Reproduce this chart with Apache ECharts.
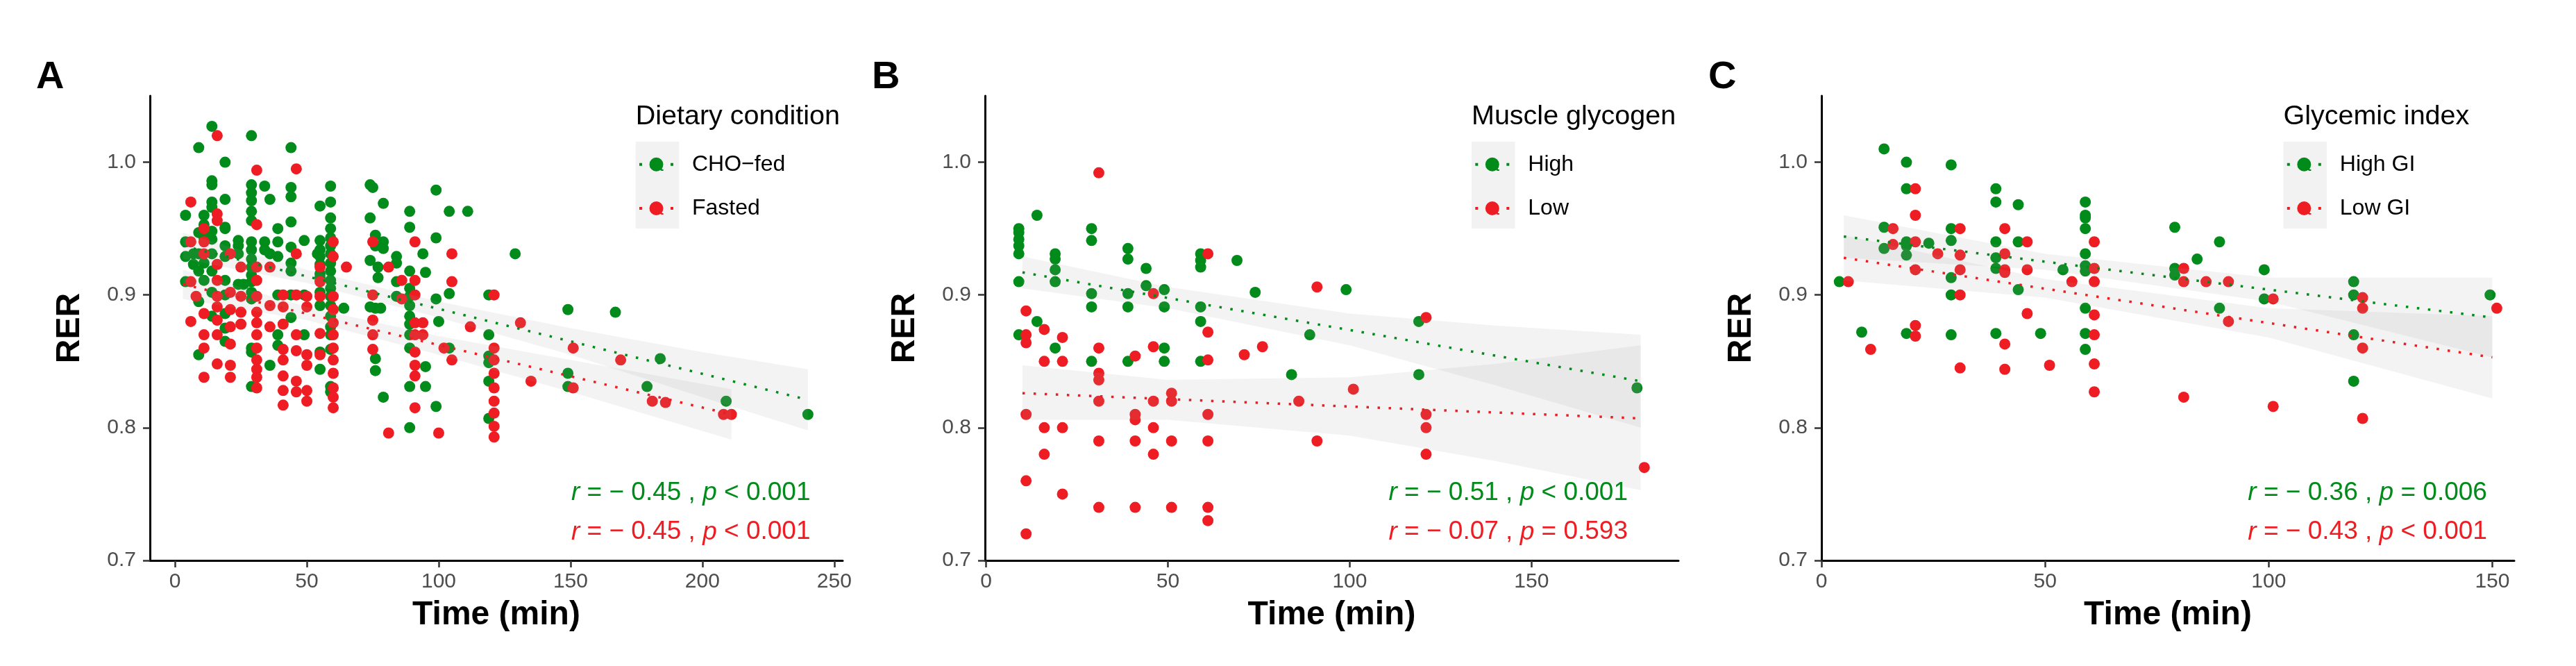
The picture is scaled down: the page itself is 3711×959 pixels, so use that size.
<!DOCTYPE html>
<html><head><meta charset="utf-8">
<script src="https://cdn.jsdelivr.net/npm/echarts@6/dist/echarts.min.js"></script>
<style>html,body{margin:0;padding:0;background:#fff}#c{width:3711px;height:959px}</style>
</head><body><div id="c"></div>
<script>
// ---------- DATA ----------
const xTicksA = [0, 50, 100, 150, 200, 250];
const xTicksB = [0, 50, 100, 150];
const xTicksC = [0, 50, 100, 150];
const yTicks = [0.7, 0.8, 0.9, 1.0];

// Panel A: Dietary condition
const choFed = [[14,1.027],[9,1.011],[19,1.0],[29,1.02],[44,1.011],[14,0.986],[14,0.983],
[29,0.983],[29,0.977],[29,0.971],[29,0.963],[29,0.956],[34,0.982],[36,0.972],
[44,0.981],[44,0.974],[44,0.955],[59,0.982],[59,0.97],[59,0.958],[59,0.95],[55,0.967],
[74,0.983],[75,0.981],[79,0.969],[89,0.963],[89,0.951],[99,0.979],[104,0.963],[111,0.963],
[74,0.958],[19,0.972],[14,0.97],[14,0.966],[4,0.96],[11,0.96],[19,0.951],
[99,0.943],[94,0.931],[129,0.931],[149,0.889],[167,0.887],[184,0.852],[149,0.841],[149,0.831],
[179,0.831],[209,0.820],[240,0.810],[119,0.9],[119,0.87],[119,0.854],[119,0.849],[119,0.835],[119,0.807],
[104,0.86],[100,0.88],[99,0.897],[104,0.901],[95,0.917],[95,0.846],[95,0.831],[99,0.816],[89,0.831],
[89,0.8],[79,0.823],[89,0.86],[89,0.918],[89,0.905],[89,0.899],[89,0.892],[89,0.884],[89,0.878],[89,0.87],
[84,0.929],[84,0.924],[84,0.91],[84,0.899],[74,0.926],[76,0.945],[76,0.937],[79,0.94],[79,0.935],
[77,0.921],[77,0.913],[76,0.89],[78,0.89],[74,0.891],[76,0.852],[76,0.843],[64,0.89],
[59,0.943],[59,0.937],[59,0.931],[59,0.924],[59,0.918],[59,0.911],[59,0.905],[59,0.899],[59,0.892],
[59,0.884],[59,0.876],[59,0.87],[59,0.859],[59,0.831],[59,0.827],
[55,0.941],[55,0.934],[55,0.929],[55,0.923],[55,0.916],[55,0.913],[55,0.902],[55,0.892],[55,0.857],
[55,0.844],[54,0.931],[49,0.941],[49,0.9],[49,0.87],[44,0.936],[44,0.924],[44,0.918],[44,0.9],[44,0.883],
[39,0.95],[39,0.94],[39,0.929],[39,0.9],[39,0.87],[39,0.862],[36,0.931],[36,0.847],[34,0.94],[34,0.934],
[29,0.94],[29,0.934],[29,0.927],[29,0.921],[29,0.915],[29,0.91],[29,0.902],[29,0.897],[29,0.86],[29,0.857],[29,0.831],
[24,0.941],[24,0.937],[24,0.931],[24,0.908],[26,0.908],
[19,0.95],[19,0.937],[19,0.929],[19,0.911],[19,0.9],[19,0.886],[19,0.875],[19,0.865],
[14,0.948],[14,0.942],[14,0.931],[14,0.918],[14,0.902],[14,0.884],[11,0.953],[11,0.943],[11,0.924],[11,0.911],
[9,0.947],[9,0.931],[9,0.918],[9,0.895],[4,0.94],[4,0.929],[4,0.91],[9,0.855],[7,0.931],[7,0.923]];
const fasted = [[16,1.02],[46,0.995],[31,0.994],[6,0.97],[16,0.961],[16,0.956],[31,0.953],
[11,0.95],[11,0.94],[11,0.931],[6,0.94],[21,0.931],
[16,0.923],[16,0.911],[16,0.899],[16,0.891],[16,0.881],[16,0.87],[16,0.848],
[21,0.902],[21,0.889],[21,0.876],[21,0.863],[21,0.847],[21,0.838],
[11,0.886],[11,0.87],[11,0.86],[11,0.838],[6,0.91],[6,0.88],[8,0.899],
[25,0.921],[25,0.899],[25,0.887],[25,0.878],
[31,0.921],[31,0.911],[31,0.899],[31,0.887],[31,0.879],[31,0.87],[31,0.86],[31,0.851],[31,0.844],[31,0.838],[31,0.83],
[36,0.921],[36,0.892],[36,0.876],
[41,0.9],[41,0.891],[41,0.878],[41,0.859],[41,0.851],[41,0.839],[41,0.828],[41,0.817],
[46,0.931],[46,0.9],[46,0.87],[46,0.858],[46,0.835],[46,0.827],
[50,0.899],[50,0.891],[50,0.855],[50,0.847],[50,0.828],[50,0.82],
[55,0.921],[55,0.91],[55,0.899],[55,0.871],[55,0.855],
[60,0.94],[60,0.929],[60,0.899],[60,0.889],[60,0.879],[60,0.87],[60,0.86],[60,0.851],[60,0.841],[60,0.83],[60,0.823],[60,0.815],
[65,0.921],[75,0.94],[75,0.9],[75,0.881],[75,0.87],[75,0.859],[81,0.921],[81,0.796],[86,0.911],[86,0.897],
[91,0.94],[91,0.911],[91,0.9],[91,0.879],[91,0.87],[91,0.857],[91,0.847],[91,0.839],[91,0.815],
[94,0.879],[94,0.87],[100,0.796],[105,0.931],[105,0.91],[105,0.851],[102,0.86],[112,0.876],
[121,0.9],[121,0.86],[121,0.851],[121,0.841],[121,0.83],[121,0.82],[121,0.811],[121,0.801],[121,0.793],
[131,0.879],[135,0.835],[151,0.86],[151,0.83],[169,0.851],[181,0.82],[186,0.819],[208,0.81],[211,0.81]];

// Panel B: Muscle glycogen
const glyHigh = [[14,0.96],[9,0.95],[9,0.947],[9,0.942],[9,0.937],[9,0.931],[9,0.91],[9,0.87],[14,0.88],
[19,0.931],[19,0.927],[19,0.919],[19,0.91],[19,0.86],[29,0.95],[29,0.941],[29,0.901],[29,0.891],[29,0.85],
[39,0.935],[39,0.927],[39,0.901],[39,0.891],[39,0.85],[44,0.92],[44,0.907],
[49,0.904],[49,0.891],[49,0.86],[49,0.85],[59,0.931],[59,0.926],[59,0.921],[59,0.891],[59,0.88],[59,0.85],
[69,0.926],[74,0.902],[84,0.84],[89,0.87],[99,0.904],[119,0.88],[119,0.84],[179,0.83]];
const glyLow = [[31,0.992],[61,0.931],[11,0.888],[11,0.87],[11,0.864],[16,0.874],[21,0.868],[16,0.85],[21,0.85],
[31,0.86],[31,0.841],[31,0.836],[31,0.82],[41,0.854],[46,0.901],[46,0.861],[46,0.82],[51,0.826],[51,0.82],
[61,0.872],[61,0.851],[71,0.855],[76,0.861],[91,0.906],[86,0.82],[101,0.829],
[121,0.883],[121,0.81],[121,0.8],[121,0.78],[11,0.81],[16,0.8],[21,0.8],[16,0.78],[11,0.76],[21,0.75],[11,0.72],
[41,0.81],[41,0.806],[46,0.8],[46,0.78],[31,0.79],[41,0.79],[51,0.79],[61,0.81],[61,0.79],[91,0.79],
[31,0.74],[41,0.74],[51,0.74],[61,0.74],[61,0.73],[181,0.77]];

// Panel C: Glycemic index
const highGI = [[14,1.01],[19,1.0],[29,0.998],[19,0.98],[39,0.98],[39,0.97],[44,0.968],
[59,0.97],[59,0.96],[59,0.958],[59,0.95],[14,0.951],[14,0.935],[19,0.94],[19,0.937],[19,0.93],[24,0.939],
[29,0.95],[29,0.941],[29,0.913],[29,0.9],[29,0.87],[39,0.94],[39,0.928],[39,0.92],[44,0.94],[44,0.904],
[39,0.871],[49,0.871],[54,0.919],[59,0.931],[59,0.922],[59,0.918],[59,0.89],[59,0.871],[59,0.859],
[79,0.951],[79,0.92],[79,0.915],[84,0.927],[89,0.94],[89,0.89],[99,0.919],[99,0.897],
[119,0.91],[119,0.9],[119,0.87],[119,0.835],[149.5,0.9],[4,0.91],[9,0.872],[19,0.871]];
const lowGI = [[21,0.98],[21,0.96],[16,0.95],[16,0.938],[21,0.94],[21,0.919],[26,0.931],
[31,0.95],[31,0.93],[31,0.919],[31,0.9],[41,0.95],[41,0.931],[41,0.919],[41,0.917],[46,0.94],[46,0.919],[46,0.886],
[41,0.863],[41,0.844],[31,0.845],[21,0.877],[21,0.869],[11,0.859],[6,0.91],[51,0.847],[56,0.91],
[61,0.94],[61,0.92],[61,0.91],[61,0.885],[61,0.87],[61,0.848],[61,0.827],
[81,0.92],[81,0.91],[81,0.823],[86,0.91],[91,0.91],[91,0.88],[101,0.897],[101,0.816],
[121,0.898],[121,0.89],[121,0.86],[121,0.807],[151,0.89]];

// Fitted lines (endpoints) and confidence bands
const fitChoFed = [[3,0.937],[240,0.821]];
const bandChoFedX = [3,50,100,150,200,240];
const bandChoFedHi = [0.947,0.919,0.895,0.875,0.857,0.844];
const bandChoFedLo = [0.927,0.909,0.883,0.855,0.823,0.798];
const fitFasted = [[3,0.908],[211,0.810]];
const bandFastedX = [3,50,100,150,211];
const bandFastedHi = [0.919,0.891,0.869,0.851,0.829];
const bandFastedLo = [0.897,0.881,0.855,0.827,0.791];

const fitGlyHigh = [[10,0.917],[180,0.835]];
const bandGlyHighX = [10,50,100,140,180];
const bandGlyHighHi = [0.929,0.906,0.886,0.877,0.870];
const bandGlyHighLo = [0.905,0.890,0.862,0.832,0.800];
const fitGlyLow = [[10,0.826],[180,0.807]];
const bandGlyLowX = [10,50,100,140,180];
const bandGlyLowHi = [0.847,0.836,0.838,0.848,0.862];
const bandGlyLowLo = [0.806,0.806,0.794,0.775,0.753];

const fitHighGI = [[5,0.944],[150,0.883]];
const bandHighGIX = [5,50,100,150];
const bandHighGIHi = [0.960,0.931,0.913,0.913];
const bandHighGILo = [0.928,0.919,0.895,0.853];
const fitLowGI = [[5,0.928],[150,0.853]];
const bandLowGIX = [5,50,100,150];
const bandLowGIHi = [0.945,0.912,0.890,0.884];
const bandLowGILo = [0.911,0.898,0.868,0.822];

// Correlation labels
const corrR = [['−0.45','−0.45'],['−0.51','−0.07'],['−0.36','−0.43']];
const corrP = [['< 0.001','< 0.001'],['< 0.001','= 0.593'],['= 0.006','< 0.001']];
const groupNames = [['CHO−fed','Fasted'],['High','Low'],['High GI','Low GI']];
const legendTitles = ['Dietary condition','Muscle glycogen','Glycemic index'];
const panelLetters = ['A','B','C'];

// ---------- STYLE / LAYOUT ----------
const GREEN = '#008B1A', RED = '#EE1D23';
const FONT = '"Liberation Sans", Arial, Helvetica, sans-serif';
const grids = [
  {left:216, top:138, width:998, height:669, xmin:-9.5, xmax:253.2, ticks:xTicksA, annX:150},
  {left:1419, top:138, width:999, height:669, xmin:-0.3, xmax:190.4, ticks:xTicksB, annX:110.5},
  {left:2624, top:138, width:998, height:669, xmin:0, xmax:154.9, ticks:xTicksC, annX:95.2}
];
const annY = [0.7511, 0.7213];
const keyBg = [{x:915.7,y:204},{x:2120,y:204},{x:3289.5,y:204}];
const letterPos = [52, 1256, 2461];

const scatterData = [[choFed, fasted],[glyHigh, glyLow],[highGI, lowGI]];
const fits = [[fitChoFed, fitFasted],[fitGlyHigh, fitGlyLow],[fitHighGI, fitLowGI]];
const bands = [
  [[bandChoFedX,bandChoFedLo,bandChoFedHi],[bandFastedX,bandFastedLo,bandFastedHi]],
  [[bandGlyHighX,bandGlyHighLo,bandGlyHighHi],[bandGlyLowX,bandGlyLowLo,bandGlyLowHi]],
  [[bandHighGIX,bandHighGILo,bandHighGIHi],[bandLowGIX,bandLowGILo,bandLowGIHi]]
];
const colors = [GREEN, RED];

const chart = echarts.init(document.getElementById('c'), null, {renderer:'canvas'});

const graphics = keyBg.map(k => ({type:'rect', left:k.x, top:k.y, shape:{width:62.6, height:125},
    style:{fill:'#f2f2f2'}, z:-1, silent:true}));
keyBg.forEach(k => {
  [0,1].forEach(j => {
    graphics.push({type:'text', left:k.x + 23.3, top:k.y + 32.7 + j*63.3 - 14, silent:true, z:10,
      style:{text:'a', fontSize:30, fill:colors[j], fontFamily:FONT}});
  });
});

function corrLabel(r, p) {
  // "r = − 0.45 , p < 0.001" (minus sign spaced as in plotmath)
  const sign = r.charAt(0) === '−' ? '− ' + r.slice(1) : r;
  return '{i|r}{n| = ' + sign + ' , }{i|p}{n| ' + p + '}';
}

const option = {
  backgroundColor:'#fff',
  animation:false,
  textStyle:{fontFamily:FONT},
  grid: grids.map(g => ({left:g.left, top:g.top, width:g.width, height:g.height, containLabel:false, show:false})),
  xAxis: grids.map((g,i) => ({
    type:'value', gridIndex:i, min:g.xmin, max:g.xmax,
    name:'Time (min)', nameLocation:'middle', nameGap:55,
    nameTextStyle:{fontSize:48, fontWeight:'bold', color:'#000', fontFamily:FONT},
    axisLine:{show:true, onZero:false, lineStyle:{color:'#000', width:3}},
    axisTick:{show:true, length:10, customValues:g.ticks, lineStyle:{color:'#333', width:2.5}},
    axisLabel:{show:true, customValues:g.ticks, color:'#4d4d4d', fontSize:30, fontFamily:FONT, margin:16,
      formatter:v => String(Math.round(v))},
    splitLine:{show:false}
  })),
  yAxis: grids.map((g,i) => ({
    type:'value', gridIndex:i, min:0.7, max:1.05,
    name:'RER', nameLocation:'middle', nameGap:91,
    nameTextStyle:{fontSize:48, fontWeight:'bold', color:'#000', fontFamily:FONT},
    axisLine:{show:true, onZero:false, lineStyle:{color:'#000', width:3}},
    axisTick:{show:true, length:10, customValues:yTicks, lineStyle:{color:'#333', width:2.5}},
    axisLabel:{show:true, customValues:yTicks, color:'#4d4d4d', fontSize:30, fontFamily:FONT, margin:20,
      formatter:v => Number(v).toFixed(1)},
    splitLine:{show:false}
  })),
  title: [
    ...panelLetters.map((t,i) => ({text:t, left:letterPos[i], top:84, padding:0,
      textStyle:{fontSize:56, fontWeight:'bold', color:'#000', fontFamily:FONT}})),
    ...legendTitles.map((t,i) => ({text:t, left:keyBg[i].x, top:148, padding:0,
      textStyle:{fontSize:39.5, fontWeight:'normal', color:'#000', fontFamily:FONT}}))
  ],
  legend: groupNames.map((names,i) => ({
    data:names, orient:'vertical', left:keyBg[i].x + 5.3, top:219.7, padding:0,
    itemWidth:49, itemHeight:20, itemGap:29.3,
    icon:'path://M0,8h4v4h-4Z M45,8h4v4h-4Z M14.5,10a10,10 0 1,0 20,0a10,10 0 1,0 -20,0Z',
    textStyle:{fontSize:32, color:'#000', fontFamily:FONT, lineHeight:34, padding:[0,0,0,22]},
    selectedMode:false
  })),
  graphic: graphics,
  series: []
};

grids.forEach((g,p) => {
  [0,1].forEach(k => {
    option.series.push({
      name:groupNames[p][k], type:'scatter', xAxisIndex:p, yAxisIndex:p,
      data:scatterData[p][k], symbol:'circle', symbolSize:16,
      itemStyle:{color:colors[k], opacity:1}, z:2, silent:true
    });
  });
  [0,1].forEach(k => {
    const [bx, lo, hi] = bands[p][k];
    option.series.push({
      name:'band'+p+k, type:'custom', xAxisIndex:p, yAxisIndex:p, silent:true, z:3, clip:true,
      data:[[bx[0], lo[0]]],
      renderItem:(params, api) => {
        const pts = [];
        for (let i=0;i<bx.length;i++) pts.push(api.coord([bx[i], hi[i]]));
        for (let i=bx.length-1;i>=0;i--) pts.push(api.coord([bx[i], lo[i]]));
        return {type:'polygon', shape:{points:pts}, style:{fill:'rgba(153,153,153,0.12)'}};
      }
    });
  });
  [0,1].forEach(k => {
    option.series.push({
      name:'fit'+p+k, type:'line', xAxisIndex:p, yAxisIndex:p, data:fits[p][k],
      showSymbol:false, symbol:'none', silent:true, z:4,
      lineStyle:{color:colors[k], width:3.5, type:[3.5,12.5], cap:'butt'}
    });
  });
  [0,1].forEach(k => {
    option.series.push({
      name:'corr'+p+k, type:'scatter', xAxisIndex:p, yAxisIndex:p, silent:true, z:5,
      data:[[g.annX, annY[k]]], symbolSize:2, itemStyle:{color:'rgba(255,255,255,0)'},
      label:{show:true, position:'right', distance:0, opacity:1,
        formatter:corrLabel(corrR[p][k], corrP[p][k]),
        rich:{
          i:{fontStyle:'italic', fontSize:37, color:colors[k], fontFamily:FONT},
          n:{fontSize:37, color:colors[k], fontFamily:FONT}
        }},
      labelLayout:{hideOverlap:false}
    });
  });
});

chart.setOption(option);
</script></body></html>
